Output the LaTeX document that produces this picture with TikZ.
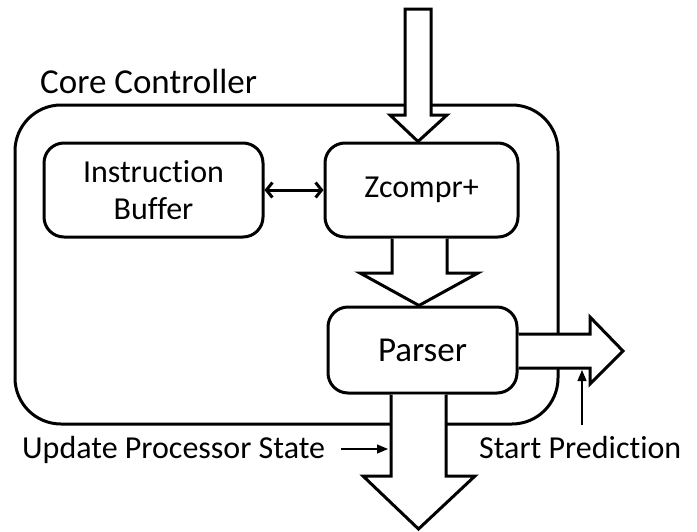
\documentclass[tikz,border=0pt]{standalone}
\usepackage{fontspec}
\setmainfont{Carlito}[Ligatures=NoCommon]
\usetikzlibrary{arrows.meta,calc}
\begin{document}
\begin{tikzpicture}[x=1pt,y=-1pt,
  box/.style={draw, line width=3pt, rounded corners=20pt, align=center,
    font=\fontsize{32}{37}\selectfont, inner sep=0pt},
  blockarrow/.style={draw, fill=white, line width=3pt, line join=miter},
  lbl/.style={font=\fontsize{32}{37}\selectfont, inner sep=0pt, anchor=base west},
  thinarrow/.style={line width=1.3pt, -{Triangle[length=11pt,width=9pt]}},
  barb/.style={Straight Barb[length=6pt,width=15pt,line width=3pt]}]
\useasboundingbox (0,0) rectangle (697,531);
% outer controller
\node[draw, line width=3pt, rounded corners=46pt, minimum width=543pt,
  minimum height=319pt, inner sep=0pt] (core) at (286.5,264.5) {};
\node[lbl, font=\fontsize{35}{40}\selectfont] (title) at (40,93) {Core Controller};
% inner boxes
\node[box, minimum width=219pt, minimum height=94pt] (ib) at (153.5,190) {Instruction\\Buffer};
\node[box, minimum width=193pt, minimum height=94pt] (zc) at (421.5,190) {Zcompr+};
\node[box, minimum width=189pt, minimum height=86pt, font=\fontsize{35}{40}\selectfont] (ps) at (422.5,350) {Parser};
% double arrow
\draw[line width=3pt, {Straight Barb[length=6pt,width=15pt]}-{Straight Barb[length=6pt,width=15pt]}] (ib.east) -- (zc.west);
% helper x coordinates
\coordinate (x392) at (392,0);
\coordinate (x447) at (447,0);
\coordinate (x391) at (391,0);
\coordinate (x446) at (446,0);
% top block arrow (input)
\coordinate (t1) at ($(zc.north)+(-3.5,0)$);
\filldraw[blockarrow] (405,9) -- (431,9) -- (431,115) -- (447,115) -- (t1)
  -- (390,115) -- (405,115) -- cycle;
% middle block arrow Zcompr+ -> Parser
\coordinate (t2) at ($(ps.north)+(-3.5,0)$);
\filldraw[blockarrow] (zc.south -| x392) -- (392,273) -- (360,273) -- (t2)
  -- (478,273) -- (447,273) -- (zc.south -| x447);
% bottom block arrow
\filldraw[blockarrow] (ps.south -| x391) -- (391,476) -- (363,476) -- (418.5,529)
  -- (475,476) -- (446,476) -- (ps.south -| x446);
% right block arrow
\coordinate (r1) at ($(ps.east)+(0,-16)$);
\coordinate (r2) at ($(ps.east)+(0,18)$);
\filldraw[blockarrow] (r1) -- (590,334) -- (590,317) -- (623,351) -- (590,384)
  -- (590,368) -- (r2);
% labels and thin arrows
\node[lbl] (upd) at (22,458) {Update Processor State};
\node[lbl] (sp) at (479,458) {Start Prediction};
\coordinate (u0) at (341,449);
\coordinate (u1) at (388,449);
\draw[thinarrow] (u0) -- (u1);
\coordinate (s0) at (582,425);
\coordinate (s1) at (582,370);
\draw[thinarrow] (s0) -- (s1);
\end{tikzpicture}
\end{document}
